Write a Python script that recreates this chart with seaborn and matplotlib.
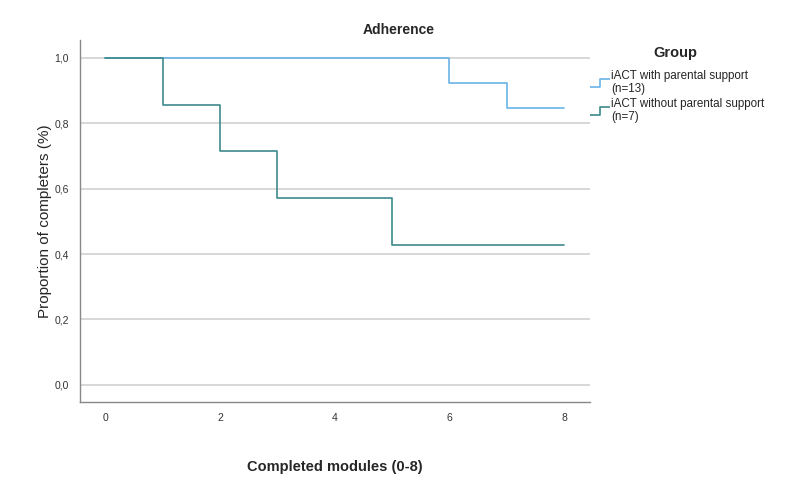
import matplotlib
matplotlib.use("Agg")
import matplotlib.pyplot as plt
import seaborn as sns
import pandas as pd
from matplotlib.lines import Line2D
from matplotlib.path import Path
from matplotlib.ticker import FuncFormatter

# Kaplan-Meier style adherence curves
groups = ["iACT with parental support\n(n=13)", "iACT without parental support\n(n=7)"]
modules_parental = [0, 6, 7, 8]
prop_parental = [1.0, 0.923, 0.846, 0.846]
modules_no_parental = [0, 1, 2, 3, 5, 8]
prop_no_parental = [1.0, 0.857, 0.714, 0.571, 0.429, 0.429]
colors = ["#6ab4e8", "#3e8a8c"]
y_ticks = [0.0, 0.2, 0.4, 0.6, 0.8, 1.0]
x_ticks = [0, 2, 4, 6, 8]

df = pd.concat([
    pd.DataFrame({"modules": modules_parental, "prop": prop_parental, "group": groups[0]}),
    pd.DataFrame({"modules": modules_no_parental, "prop": prop_no_parental, "group": groups[1]}),
])

sns.set_style("white")
plt.rcParams["font.family"] = ["Liberation Sans", "DejaVu Sans"]

fig = plt.figure(figsize=(7.92, 4.93), dpi=100)
ax = fig.add_axes([0.101, 0.185, 0.644, 0.734])

for y in y_ticks:
    ax.axhline(y, color="#d4d4d4", lw=1.3, zorder=0)

sns.lineplot(data=df, x="modules", y="prop", hue="group", palette=colors,
             estimator=None, drawstyle="steps-post", linewidth=1.2,
             legend=False, ax=ax)

ax.set_xlim(-0.44, 8.45)
ax.set_ylim(-0.052, 1.055)
ax.set_xticks(x_ticks)
ax.set_yticks(y_ticks)
ax.yaxis.set_major_formatter(FuncFormatter(lambda v, p: f"{v:.1f}".replace(".", ",")))
ax.tick_params(axis="both", length=0, labelsize=7.5, colors="#333333", pad=8)

for s in ["top", "right"]:
    ax.spines[s].set_visible(False)
for s in ["left", "bottom"]:
    ax.spines[s].set_color("#888888")
    ax.spines[s].set_linewidth(1.0)

fig.text(0.503, 0.939, "Adherence", fontsize=10, fontweight="bold",
         ha="center", va="center")
ax.set_xlabel("Completed modules (0-8)", fontsize=10.5, fontweight="bold", labelpad=27)
ax.set_ylabel("Proportion of completers (%)", fontsize=11, labelpad=2)

# legend title drawn separately to control spacing
fig.text(0.853, 0.892, "Group", fontsize=10.5, fontweight="bold",
         ha="center", va="center")

# step-shaped legend glyphs
step = Path([(-1, -0.4), (0, -0.4), (0, 0.4), (1, 0.4)],
            [Path.MOVETO, Path.LINETO, Path.LINETO, Path.LINETO])
handles = [Line2D([], [], marker=step, linestyle="None", markersize=14,
                  markerfacecolor="none", markeredgecolor=c, markeredgewidth=1.2)
           for c in colors]
leg = fig.legend(handles, groups, loc="upper left",
                 bbox_to_anchor=(0.750, 0.858), frameon=False, fontsize=8.4,
                 handlelength=1.0, handletextpad=0.45, labelspacing=0.3,
                 borderaxespad=0, borderpad=0)
for t in leg.get_texts():
    t.set_linespacing(1.1)

fig.savefig("out.png", dpi=100)
